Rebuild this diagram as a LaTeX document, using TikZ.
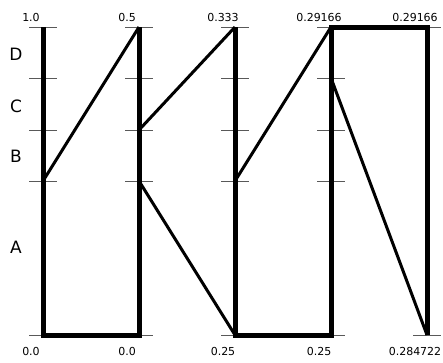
\documentclass[tikz,border=0pt]{standalone}
\usepackage{fontspec}
\setmainfont{DejaVu Sans}
\usetikzlibrary{calc}

\begin{document}
\begin{tikzpicture}[x=1pt, y=-1pt,
    post/.style={line width=5pt},
    jump/.style={line width=3pt},
    tickmark/.style={line width=0.9pt, black!65},
    lvl/.style={font=\fontsize{17}{20}\selectfont},
    val/.style={anchor=base, font=\fontsize{11}{13}\selectfont}]
  \useasboundingbox (0,0) rectangle (443,362);
  % grid points: column \i, level \j (0 = bottom)
  \foreach \i in {1,...,5}{
    \foreach \j/\y in {0/335,1/181,2/130,3/78,4/27}{
      \coordinate (p\i-\j) at ({43+96*(\i-1)},\y);
    }}
  % level ticks
  \foreach \i in {1,...,4}{
    \foreach \j in {0,...,4}{
      \draw[tickmark] ($(p\i-\j)+(-14,0)$) -- ($(p\i-\j)+(14,0)$);
    }}
  \foreach \j in {0,4}{ \draw[tickmark] ($(p5-\j)+(-14,0)$) -- ($(p5-\j)+(14,0)$); }
  % level names
  \node[lvl] (lD) at (16,54) {D};
  \node[lvl] (lC) at (16,106) {C};
  \node[lvl] (lB) at (16,156) {B};
  \node[lvl] (lA) at (16,247) {A};
  % posts
  \draw[post] (p1-4) -- (p1-0) -- (p2-0) -- (p2-4);
  \draw[post] (p3-4) -- (p3-0) -- (p4-0) -- (p4-4) -- (p5-4) -- (p5-0);
  % jumps
  \draw[jump] (p1-1) -- (p2-4);
  \draw[jump] (p2-2) -- (p3-4);
  \draw[jump] (p2-1) -- (p3-0);
  \draw[jump] (p3-1) -- (p4-4);
  \draw[jump] (p4-3) -- (p5-0);
  % values, top and bottom
  \foreach \i/\t/\b in {1/1.0/0.0, 2/0.5/0.0, 3/0.333/0.25, 4/0.29166/0.25, 5/0.29166/0.284722}{
    \node[val] (top\i) at ($(p\i-4)+(-12,-6)$) {\t};
    \node[val] (bot\i) at ($(p\i-0)+(-12,20)$) {\b};
  }
\end{tikzpicture}
\end{document}
